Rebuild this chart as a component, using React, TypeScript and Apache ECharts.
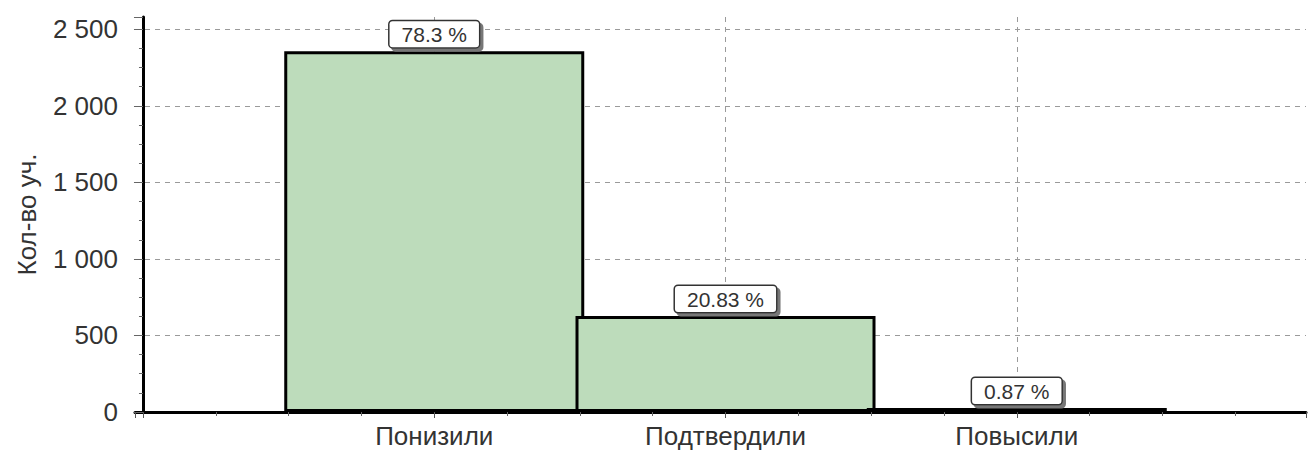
import React, { useEffect, useRef } from "react";
import * as echarts from "echarts";

const categories = ["Понизили", "Подтвердили", "Повысили"];
const positions = [1, 2, 3];
const counts = [2357, 627, 26];
const percentLabels = ["78.3 %", "20.83 %", "0.87 %"];
const yTicks = [0, 500, 1000, 1500, 2000, 2500];
const yAxisName = "Кол-во уч.";

const FONT = "'Liberation Sans', Arial, sans-serif";

export default function App() {
  const ref = useRef<HTMLDivElement>(null);

  useEffect(() => {
    if (!ref.current) return;
    const chart = echarts.init(ref.current, null, { renderer: "svg" });

    const fmtNum = (v: number) =>
      String(v).replace(/\B(?=(\d{3})+(?!\d))/g, " ");

    chart.setOption({
      animation: false,
      backgroundColor: "#ffffff",
      grid: { left: 135, right: 0, top: 17, bottom: 42, containLabel: false },
      xAxis: {
        type: "value",
        min: -0.0274,
        max: 3.993,
        axisLine: { show: true, onZero: false, lineStyle: { color: "#000", width: 3 } },
        axisTick: { show: true, length: 6, lineStyle: { color: "#555", width: 1 } },
        minorTick: { show: true, splitNumber: 4, length: 4, lineStyle: { color: "#666", width: 1 } },
        splitLine: { show: false },
        axisLabel: {
          margin: 11,
          fontSize: 26,
          fontFamily: FONT,
          color: "#333",
          formatter: (v: number) => {
            const i = positions.indexOf(Math.round(v * 1000) / 1000);
            return i >= 0 ? categories[i] : "";
          },
        },
      },
      yAxis: {
        type: "value",
        min: 0,
        max: 2580,
        interval: 500,
        name: yAxisName,
        nameLocation: "middle",
        nameGap: 95,
        nameTextStyle: { fontSize: 26, fontFamily: FONT, color: "#333" },
        axisLine: { show: true, lineStyle: { color: "#000", width: 3 } },
        axisTick: { show: true, length: 9, lineStyle: { color: "#666", width: 1 } },
        minorTick: { show: true, splitNumber: 4, length: 4, lineStyle: { color: "#666", width: 1 } },
        splitLine: {
          show: true,
          showMaxLine: false,
          showMinLine: false,
          lineStyle: { color: "#9a9a9a", width: 1, type: [5, 5] },
        },
        axisLabel: {
          margin: 17,
          fontSize: 26,
          fontFamily: FONT,
          color: "#333",
          formatter: (v: number) => (yTicks.indexOf(v) >= 0 ? fmtNum(v) : ""),
        },
      },
      series: [
        {
          type: "bar",
          barWidth: "103%",
          data: positions.map((p, i) => [p, counts[i]]),
          itemStyle: { color: "#bddcbb", borderColor: "#000", borderWidth: 3 },
          label: {
            show: true,
            position: "top",
            distance: 4,
            formatter: (p: any) => percentLabels[p.dataIndex],
            fontSize: 21,
            fontFamily: FONT,
            color: "#333",
            backgroundColor: "#fff",
            borderColor: "#333",
            borderWidth: 1.5,
            borderRadius: 3,
            padding: [3, 12, 2, 12],
            shadowColor: "#777",
            shadowOffsetX: 3,
            shadowOffsetY: 3,
            shadowBlur: 0,
          },
          markLine: {
            z: 1,
            silent: true,
            symbol: "none",
            label: { show: false },
            lineStyle: { color: "#9a9a9a", width: 1, type: [5, 5] },
            data: positions.map((p) => ({ xAxis: p })),
          },
        },
      ],
    });

    return () => chart.dispose();
  }, []);

  return (
    <div
      ref={ref}
      style={{ position: "fixed", left: 0, top: 0, width: 1309, height: 454 }}
    />
  );
}
